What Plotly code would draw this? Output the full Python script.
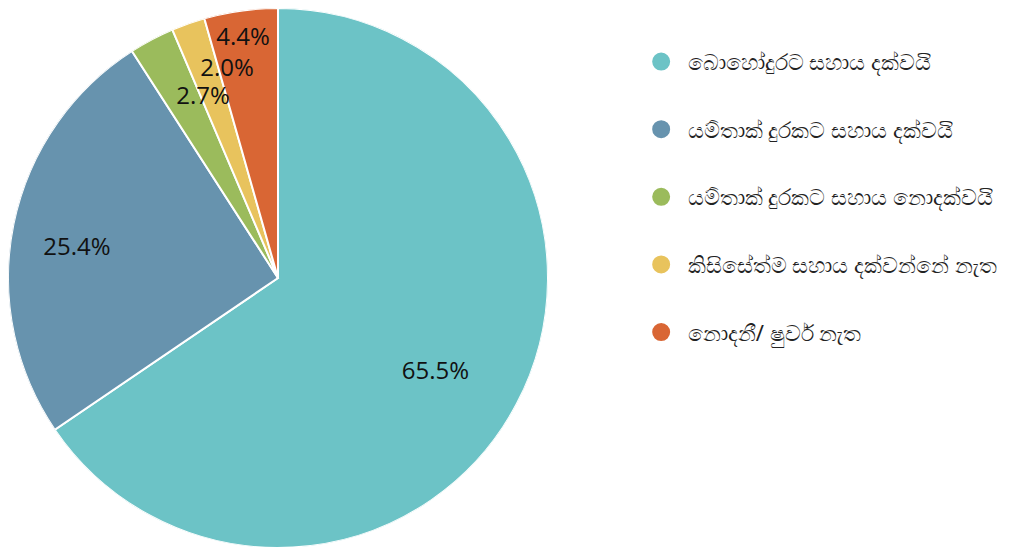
import plotly.graph_objects as go

labels = [
    "බොහෝදුරට සහාය දක්වයි",
    "යම්තාක් දුරකට සහාය දක්වයි",
    "යම්තාක් දුරකට සහාය නොදක්වයි",
    "කිසිසේත්ම සහාය දක්වන්නේ නැත",
    "නොදනී/ ෂුවර් නැත",
]
values = [65.5, 25.4, 2.7, 2.0, 4.4]
colors = ["#6cc3c6", "#6793ae", "#9bbb5c", "#e8c35d", "#d96634"]

# how far out (fraction of radius) each percentage label sits, and its anchor
label_r = [0.66, 0.76, 0.805, 0.865, 0.937]
label_pos = ["bottom center", "bottom center", "bottom right", "bottom right", "bottom center"]

total = sum(values)
widths = [v / total * 360 for v in values]
mid_angles = []
start = 0
for v in values:
    mid_angles.append((start + v / 2) / total * 360)
    start += v

fig = go.Figure()

# pie drawn as polar wedges so the labels can sit on the same polar scale
fig.add_trace(go.Barpolar(
    r=[1] * len(values),
    theta=mid_angles,
    width=widths,
    marker=dict(color=colors, line=dict(color="white", width=2)),
    customdata=labels,
    hovertemplate="%{customdata}<extra></extra>",
    showlegend=False,
))

fig.add_trace(go.Scatterpolar(
    r=label_r,
    theta=mid_angles,
    mode="text",
    text=[f"{v:.1f}%" for v in values],
    textposition=label_pos,
    textfont=dict(family="Open Sans", size=24, color="#111111"),
    showlegend=False,
    hoverinfo="skip",
))

# circle legend entries, one group each so the rows can be spaced out
for i, (lab, col) in enumerate(zip(labels, colors)):
    fig.add_trace(go.Scatter(
        x=[None], y=[None],
        mode="markers",
        marker=dict(color=col, size=16, symbol="circle", line=dict(color=col, width=2)),
        name=lab,
        legendgroup=str(i),
    ))

fig.update_layout(
    width=1029,
    height=547,
    margin=dict(l=0, r=0, t=0, b=0),
    paper_bgcolor="white",
    plot_bgcolor="white",
    xaxis=dict(visible=False),
    yaxis=dict(visible=False),
    polar=dict(
        domain=dict(x=[0, 540 / 1029], y=[1 - 540 / 547, 1]),
        bgcolor="rgba(0,0,0,0)",
        bargap=0,
        radialaxis=dict(visible=False, range=[0, 1]),
        angularaxis=dict(visible=False, rotation=90, direction="clockwise"),
    ),
    legend=dict(
        x=0.609, y=0.94, xanchor="left", yanchor="top",
        font=dict(size=22, color="#222222", family="Noto Sans"),
        tracegroupgap=36,
        itemsizing="trace",
        itemwidth=43,
        traceorder="grouped",
    ),
)

fig.write_html("out.html")
